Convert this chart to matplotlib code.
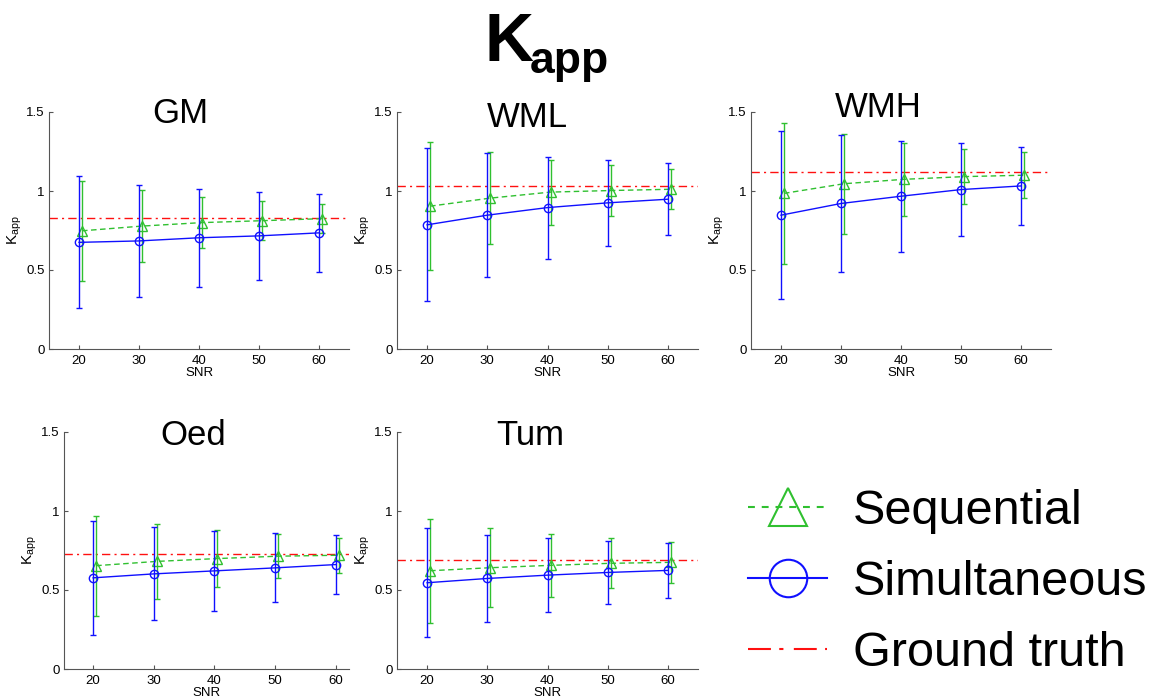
import matplotlib
matplotlib.use('Agg')
import matplotlib.pyplot as plt
from matplotlib.lines import Line2D

plt.rcParams['font.family'] = ['Liberation Sans', 'DejaVu Sans']
plt.rcParams['mathtext.fontset'] = 'custom'
plt.rcParams['mathtext.rm'] = 'Liberation Sans'
plt.rcParams['mathtext.it'] = 'Liberation Sans'

# data
snr = [20, 30, 40, 50, 60]
tissues = ['GM', 'WML', 'WMH', 'Oed', 'Tum']
sim_mean = [[0.675, 0.684, 0.704, 0.716, 0.735],
            [0.786, 0.847, 0.895, 0.925, 0.948],
            [0.847, 0.921, 0.967, 1.009, 1.032],
            [0.577, 0.602, 0.621, 0.640, 0.661],
            [0.546, 0.573, 0.594, 0.611, 0.624]]
sim_err = [[0.418, 0.352, 0.310, 0.278, 0.246],
           [0.484, 0.392, 0.323, 0.272, 0.227],
           [0.531, 0.431, 0.352, 0.293, 0.247],
           [0.359, 0.295, 0.252, 0.218, 0.187],
           [0.344, 0.275, 0.232, 0.197, 0.172]]
seq_mean = [[0.748, 0.778, 0.800, 0.812, 0.825],
            [0.904, 0.955, 0.993, 1.003, 1.011],
            [0.985, 1.046, 1.074, 1.091, 1.100],
            [0.654, 0.681, 0.699, 0.714, 0.720],
            [0.622, 0.641, 0.656, 0.669, 0.675]]
seq_err = [[0.317, 0.228, 0.163, 0.125, 0.090],
           [0.405, 0.290, 0.206, 0.160, 0.126],
           [0.445, 0.317, 0.230, 0.175, 0.145],
           [0.317, 0.235, 0.179, 0.141, 0.111],
           [0.328, 0.251, 0.199, 0.159, 0.128]]
truth = [0.830, 1.030, 1.121, 0.727, 0.689]

blue = '#1010ff'
green = '#30c030'
red = '#ff1010'

W, H = 1160., 700.
fig = plt.figure(figsize=(11.6, 7.0), dpi=100)

# axes boxes in pixels: left, top, right, bottom
boxes = [(49, 112, 349, 349), (397, 112, 698, 349), (751, 112, 1051, 349),
         (64, 432, 349, 669), (397, 432, 698, 669)]
xlims = [(15, 65), (15, 65), (15, 65), (15.2, 62.2), (15, 65)]
titles_at = [(180, 123), (527, 127), (878, 117), (193, 445), (530, 445)]

for i, name in enumerate(tissues):
    l, t, r, b = boxes[i]
    ax = fig.add_axes([l / W, 1 - b / H, (r - l) / W, (b - t) / H])
    seq_x = [s + 0.5 for s in snr]
    ax.axhline(truth[i], color=red, lw=1.0, ls=(0, (6, 3, 1.5, 3)), zorder=1)
    ax.errorbar(seq_x, seq_mean[i], yerr=seq_err[i], color=green, lw=1.0,
                ls=(0, (4, 2.5)), marker='^', ms=6.5, mfc='none', mec=green,
                mew=1.0, capsize=2, capthick=1, elinewidth=1, zorder=2)
    ax.errorbar(snr, sim_mean[i], yerr=sim_err[i], color=blue, lw=1.0,
                ls='-', marker='o', ms=6, mfc='none', mec=blue,
                mew=1.0, capsize=2, capthick=1, elinewidth=1, zorder=3)
    ax.set_xlim(*xlims[i])
    ax.set_ylim(0, 1.5)
    ax.set_xticks(snr)
    ax.set_yticks([0, 0.5, 1, 1.5])
    ax.set_yticklabels(['0', '0.5', '1', '1.5'])
    for side in ['top', 'right']:
        ax.spines[side].set_visible(False)
    for side in ['left', 'bottom']:
        ax.spines[side].set_color('#555555')
        ax.spines[side].set_linewidth(0.8)
    ax.tick_params(direction='in', length=3, width=0.8, colors='#555555',
                   labelcolor='black', labelsize=9.5)
    ax.tick_params(axis='y', pad=3)
    ax.tick_params(axis='x', pad=4)
    ax.set_xlabel('SNR', fontsize=9.5, labelpad=0)
    ax.set_ylabel(r'$\mathrm{K}_{\mathrm{app}}$', fontsize=11, labelpad=2)
    tx, ty = titles_at[i]
    fig.text(tx / W, 1 - ty / H, name, ha='center', va='baseline',
             fontsize=25)

# main title K_app
fig.text(485 / W, 1 - 61 / H, 'K', ha='left', va='baseline',
         fontsize=49, fontweight='bold')
fig.text(530 / W, 1 - 73 / H, 'app', ha='left', va='baseline',
         fontsize=32, fontweight='bold')

# legend
handles = [Line2D([], [], color=green, lw=1.5, ls=(0, (3.3, 3.3)), marker='^',
                  ms=27, mfc='none', mec=green, mew=1.5),
           Line2D([], [], color=blue, lw=1.5, ls='-', marker='o',
                  ms=27, mfc='none', mec=blue, mew=1.5),
           Line2D([], [], color=red, lw=1.5, ls=(0, (11, 4, 2, 5)))]
labels = ['Sequential', 'Simultaneous', 'Ground truth']
fig.legend(handles, labels, loc='upper left', bbox_to_anchor=(748 / W, 1 - 489 / H),
           frameon=False, fontsize=35, handlelength=1.63, handletextpad=0.53,
           borderpad=0, borderaxespad=0, labelspacing=0.53)

fig.savefig('out.png', dpi=100)
